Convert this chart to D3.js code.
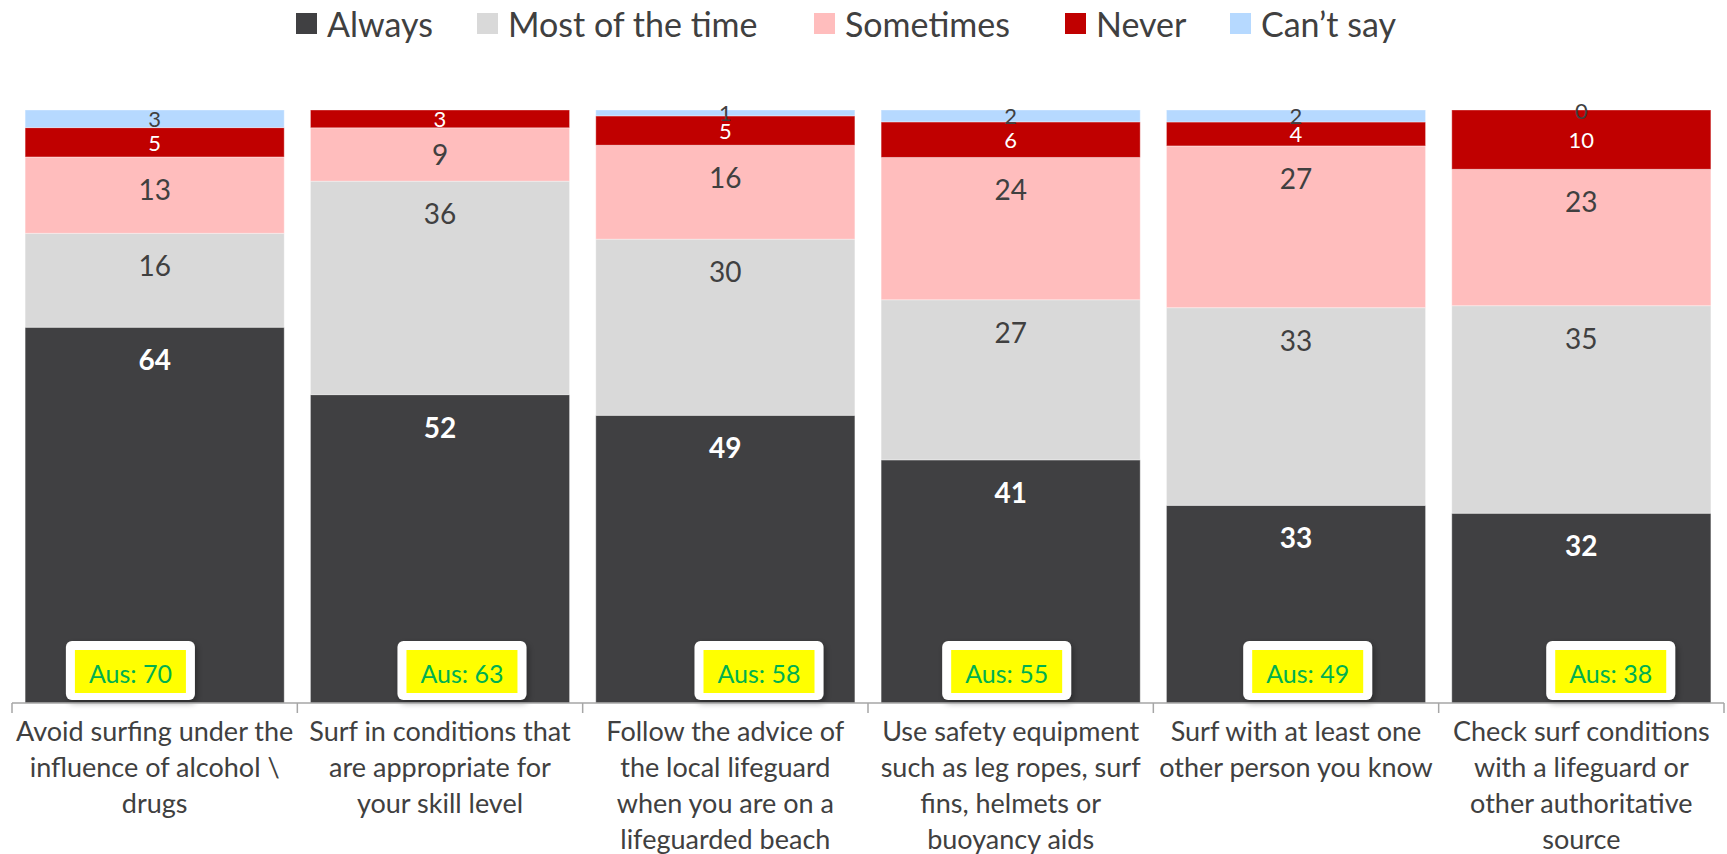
<!DOCTYPE html>
<html>
<head>
<meta charset="utf-8">
<script src="https://cdn.jsdelivr.net/npm/d3@7"></script>
<style>
  html, body { margin: 0; padding: 0; background: #fff; }
  svg { display: block; }
  text { font-family: Lato, "Open Sans", sans-serif; }
</style>
</head>
<body>
<svg id="chart" width="1727" height="854"></svg>
<script>
// ---- data ----
const categories = [
  "Avoid surfing under the\ninfluence of alcohol \\\ndrugs",
  "Surf in conditions that\nare appropriate for\nyour skill level",
  "Follow the advice of\nthe local lifeguard\nwhen you are on a\nlifeguarded beach",
  "Use safety equipment\nsuch as leg ropes, surf\nfins, helmets or\nbuoyancy aids",
  "Surf with at least one\nother person you know",
  "Check surf conditions\nwith a lifeguard or\nother authoritative\nsource"
];
const seriesNames = ["Always", "Most of the time", "Sometimes", "Never", "Can\u2019t say"];
const always        = [64, 52, 49, 41, 33, 32];
const mostOfTheTime = [16, 36, 30, 27, 33, 35];
const sometimes     = [13,  9, 16, 24, 27, 23];
const never         = [ 5,  3,  5,  6,  4, 10];
const cantSay       = [ 3, null, 1, 2,  2,  0];
const ausValues     = [70, 63, 58, 55, 49, 38];

// ---- layout / style (not data) ----
const ausBoxPos = [0.415, 0.577, 0.618, 0.486, 0.541, 0.603]; // fraction across band
const legendX = [296, 477, 814, 1065, 1230];
const colors = ["#404042", "#D9D9D9", "#FFBDBD", "#C00000", "#B6D9FF"];
const labelColors = ["#ffffff", "#404040", "#404040", "#ffffff", "#404040"];
const labelWeights = ["bold", "normal", "normal", "normal", "normal"];
const labelSizes = [28, 28, 28, 22, 22];

const seriesArrays = [always, mostOfTheTime, sometimes, never, cantSay];
const rows = categories.map((c, i) => {
  const r = { cat: c };
  seriesNames.forEach((s, k) => r[s] = seriesArrays[k][i]);
  return r;
});

const svg = d3.select("#chart");
const plotLeft = 12, plotRight = 1724, plotTop = 110, plotBottom = 703;

const x = d3.scaleBand().domain(categories).range([plotLeft, plotRight])
  .paddingInner(0.092).paddingOuter(0.046);
const y = d3.scaleLinear().domain([0, 1]).range([plotBottom, plotTop]);
const color = d3.scaleOrdinal().domain(seriesNames).range(colors);

const stack = d3.stack().keys(seriesNames)
  .value((d, key) => d[key] == null ? 0 : d[key])
  .offset(d3.stackOffsetExpand);
const stacked = stack(rows);

// defs: shadow
const defs = svg.append("defs");
const f = defs.append("filter").attr("id", "shadow")
  .attr("x", "-20%").attr("y", "-20%").attr("width", "150%").attr("height", "160%");
f.append("feDropShadow").attr("dx", 2).attr("dy", 3).attr("stdDeviation", 3)
  .attr("flood-color", "#000").attr("flood-opacity", 0.35);

// bars
const groups = svg.append("g").selectAll("g").data(stacked).join("g")
  .attr("fill", d => color(d.key));
groups.selectAll("rect").data(d => d).join("rect")
  .attr("x", d => x(d.data.cat))
  .attr("width", x.bandwidth())
  .attr("y", d => y(d[1]))
  .attr("height", d => y(d[0]) - y(d[1]))
  .attr("stroke", "#ffffff").attr("stroke-opacity", 0.35).attr("stroke-width", 1);

// value labels
stacked.forEach((layer, k) => {
  svg.append("g").selectAll("text")
    .data(layer.filter(d => d.data[layer.key] != null))
    .join("text")
    .attr("x", d => x(d.data.cat) + x.bandwidth() / 2)
    .attr("y", d => {
      const t = y(d[1]), h = y(d[0]) - y(d[1]);
      return t + Math.min(32, h / 2);
    })
    .attr("text-anchor", "middle")
    .attr("dominant-baseline", "central")
    .attr("fill", labelColors[k])
    .attr("font-weight", labelWeights[k])
    .attr("font-size", labelSizes[k])
    .text(d => d.data[layer.key]);
});

// Aus boxes
const boxW = 129, boxH = 59, yelW = 111, yelH = 43;
const aus = svg.append("g").selectAll("g").data(categories).join("g")
  .attr("transform", (c, i) => {
    const cx = x(c) - x.step() * x.paddingInner() / 2 + x.step() * ausBoxPos[i];
    return `translate(${cx},${plotBottom - 3 - boxH / 2})`;
  });
aus.append("rect")
  .attr("x", -boxW / 2).attr("y", -boxH / 2).attr("width", boxW).attr("height", boxH)
  .attr("rx", 6).attr("fill", "#fff").attr("filter", "url(#shadow)");
aus.append("rect")
  .attr("x", -yelW / 2).attr("y", -yelH / 2 + 1).attr("width", yelW).attr("height", yelH)
  .attr("fill", "#FFFF00");
aus.append("text")
  .attr("text-anchor", "middle").attr("dominant-baseline", "central")
  .attr("y", 2)
  .attr("fill", "#00B050").attr("font-size", 25)
  .text((c, i) => "Aus: " + ausValues[i]);

// x axis
const axisG = svg.append("g").attr("transform", `translate(0,${plotBottom})`);
axisG.append("line").attr("x1", plotLeft).attr("x2", plotRight).attr("y1", 0).attr("y2", 0)
  .attr("stroke", "#A6A6A6").attr("stroke-width", 1.5);
const tickXs = d3.range(categories.length + 1).map(i => plotLeft + i * x.step());
axisG.selectAll("line.tick").data(tickXs).join("line").attr("class", "tick")
  .attr("x1", d => d).attr("x2", d => d).attr("y1", 0).attr("y2", 10)
  .attr("stroke", "#A6A6A6").attr("stroke-width", 1.5);

// category labels
const catLabels = axisG.selectAll("text.cat").data(categories).join("text")
  .attr("class", "cat")
  .attr("text-anchor", "middle")
  .attr("fill", "#404040")
  .attr("font-size", 27);
catLabels.each(function (c) {
  const lines = c.split("\n");
  const t = d3.select(this);
  lines.forEach((ln, j) => {
    t.append("tspan")
      .attr("x", x(c) + x.bandwidth() / 2)
      .attr("y", 27 + j * 36)
      .attr("dominant-baseline", "central")
      .text(ln);
  });
});

// legend
const legend = svg.append("g").attr("transform", "translate(0,23)");
seriesNames.forEach((s, k) => {
  legend.append("rect").attr("x", legendX[k]).attr("y", -10).attr("width", 21).attr("height", 21)
    .attr("fill", colors[k]);
  legend.append("text").attr("x", legendX[k] + 31).attr("y", 0)
    .attr("dominant-baseline", "central")
    .attr("fill", "#404040").attr("font-size", 34).text(s);
});
</script>
</body>
</html>
